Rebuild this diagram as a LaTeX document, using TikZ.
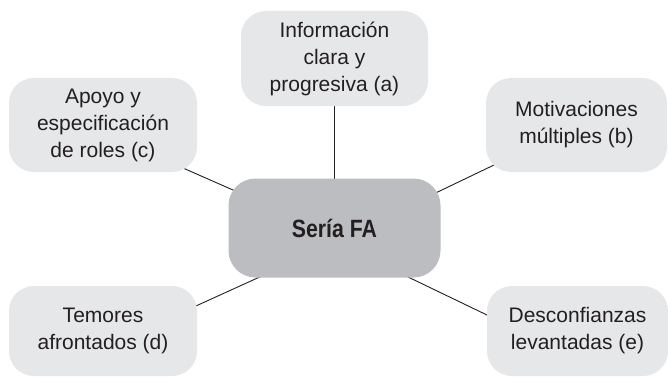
\documentclass[tikz,border=0pt]{standalone}
\usepackage{fontspec}
\setmainfont{Liberation Sans}
\newfontfamily\condfont[FakeStretch=0.85]{Liberation Sans}
\usetikzlibrary{calc,backgrounds}
\definecolor{outerfill}{HTML}{E6E7E8}
\definecolor{centerfill}{HTML}{BCBDC0}
\definecolor{inkc}{HTML}{231F20}
\begin{document}
\begin{tikzpicture}[x=1pt,y=-1pt,
  outerbox/.style={fill=outerfill, rounded corners=25pt, inner sep=0pt, align=center,
    text=inkc, font=\fontsize{21}{27}\selectfont},
  centerbox/.style={fill=centerfill, rounded corners=27pt, inner sep=0pt, align=center,
    text=inkc, font=\condfont\bfseries\fontsize{25}{30}\selectfont,
    minimum width=212pt, minimum height=99pt},
  link/.style={draw=inkc, line width=0.9pt}]
\useasboundingbox (0,0) rectangle (668,377);
\node[centerbox] (m) at (334.5,228) {Sería FA};
\node[outerbox, minimum width=187pt, minimum height=95pt] (a) at (334.5,58.5) {Información\\clara y\\progresiva (a)};
\node[outerbox, minimum width=188pt, minimum height=94pt] (c) at (103,125) {Apoyo y\\especificación\\de roles (c)};
\node[outerbox, minimum width=181pt, minimum height=94pt] (b) at (576.5,125) {Motivaciones\\múltiples (b)};
\node[outerbox, minimum width=188pt, minimum height=90pt] (d) at (103,331) {Temores\\afrontados (d)};
\node[outerbox, minimum width=181pt, minimum height=90pt] (e) at (577.5,331) {Desconfianzas\\levantadas (e)};
\begin{scope}[on background layer]
\draw[link] (a.center) -- (m.center);
\draw[link] ($(c.center)+(67,37.3)$) -- ($(m.center)+(-74.5,-26.1)$);
\draw[link] ($(b.center)+(-66.5,32.3)$) -- ($(m.center)+(75.5,-22.7)$);
\draw[link] ($(d.center)+(72,-15.5)$) -- ($(m.center)+(-49.5,37.5)$);
\draw[link] ($(m.center)+(50.5,37.9)$) -- ($(e.center)+(-72.5,-7.3)$);
\end{scope}
\end{tikzpicture}
\end{document}
